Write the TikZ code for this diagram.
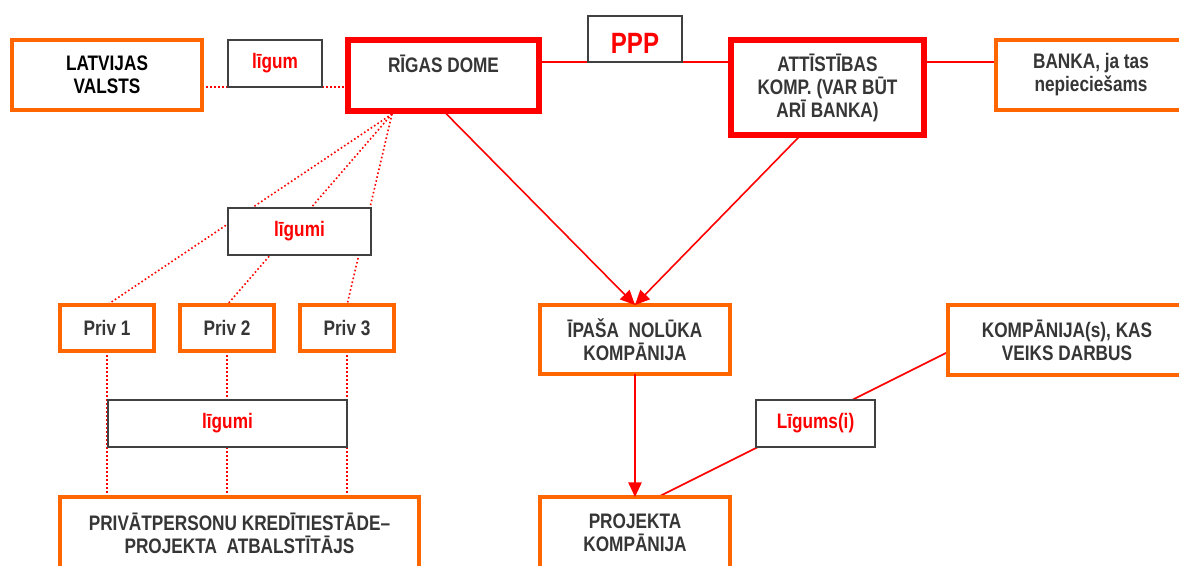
\documentclass[tikz,border=0pt]{standalone}
\usepackage{fontspec}
\setmainfont[FakeStretch=0.82]{Liberation Sans}
\usetikzlibrary{arrows.meta,backgrounds}
\definecolor{boxorange}{HTML}{FF6600}
\definecolor{boxred}{HTML}{FF0000}
\definecolor{boxgray}{HTML}{404040}
\definecolor{txtgray}{HTML}{363636}
\begin{document}
\begin{tikzpicture}[x=0.75pt,y=-0.75pt,
 base/.style={draw, fill=white, inner sep=0pt, outer sep=0pt, align=center,
   font=\bfseries\fontsize{15.75}{17.25}\selectfont, text=txtgray},
 obox/.style={base, draw=boxorange, line width=3pt},
 rbox/.style={base, draw=boxred, line width=4.5pt},
 gbox/.style={base, draw=boxgray, line width=1.5pt, text=boxred},
 sz/.style 2 args={minimum width=#1pt, minimum height=#2pt},
 link/.style={draw=boxred, line width=1.2pt},
 dotlink/.style={draw=boxred, line width=1.2pt, dash pattern=on 1.2pt off 1.8pt},
 arr/.style={link, -{Triangle[length=11pt,width=10pt]}}
]
\useasboundingbox (0,0) rectangle (1179,565);
\clip (0,0) rectangle (1179,565);

% boxes
\node[obox, sz={142.5}{52.5}, text=black] (latv) at (107,75) {LATVIJAS\\VALSTS};
\node[gbox, sz={70.5}{35.25}] (lig1) at (275,63.5) {līgum};
\node[rbox, sz={143.25}{53.25}] (riga) at (443.5,75.5) {RĪGAS DOME\\~};
\node[gbox, sz={70.5}{34.5}, font=\bfseries\fontsize{22}{24}\selectfont, text height=22pt] (ppp) at (635,39) {PPP};
\node[rbox, sz={144.75}{71.25}] (att) at (827.5,87.5) {ATTĪSTĪBAS\\KOMP. (VAR BŪT\\ARĪ BANKA)};
\node[obox, sz={142.5}{52.5}] (bank) at (1091,75) {BANKA, ja tas\\nepieciešams};

\node[gbox, sz={107.25}{35.25}] (lig2) at (299.5,231.5) {līgumi};
\node[obox, sz={70.5}{34.5}] (priv1) at (107,328) {Priv 1};
\node[obox, sz={70.5}{34.5}] (priv2) at (227,328) {Priv 2};
\node[obox, sz={70.5}{34.5}] (priv3) at (347,328) {Priv 3};
\node[gbox, sz={179.25}{35.25}] (lig4) at (227.5,423.5) {līgumi};
\node[obox, sz={269.25}{54}] (privp) at (239.5,533) {PRIVĀTPERSONU KREDĪTIESTĀDE–\\PROJEKTA\ \ ATBALSTĪTĀJS};

\node[obox, sz={142.5}{51.75}] (spv) at (635,339.5) {ĪPAŠA\ \ NOLŪKA\\KOMPĀNIJA};
\node[obox, sz={142.5}{54}] (proj) at (635,533) {PROJEKTA\\KOMPĀNIJA};
\node[obox, sz={178.5}{52.5}] (komp) at (1067,340) {KOMPĀNIJA(s), KAS\\VEIKS DARBUS};
\node[gbox, sz={89.25}{35.25}] (lig3) at (815.5,423.5) {Līgums(i)};

\coordinate (fan) at (392,114);

\begin{pgfonlayer}{background}
 % dotted contracts
 \draw[dotlink] (latv.east |- lig1.south) -- (riga.west |- lig1.south);
 \draw[dotlink] (fan) -- (priv1.north);
 \draw[dotlink] (fan) -- (priv2.north);
 \draw[dotlink] (fan) -- (priv3.north);
 \draw[dotlink] (priv1.south) -- (priv1.south |- privp.north);
 \draw[dotlink] (priv2.south) -- (priv2.south |- privp.north);
 \draw[dotlink] (priv3.south) -- (priv3.south |- privp.north);
 % solid links
 \draw[link] (riga.east |- ppp.south) -- (att.west |- ppp.south);
 \draw[link] (att.east |- ppp.south) -- (bank.west |- ppp.south);
 \draw[link] ([xshift=17.25pt]proj.north) -- ([yshift=-9pt]komp.west);
\end{pgfonlayer}

% arrows
\draw[arr] (riga.south) -- (spv.north);
\draw[arr] ([xshift=-20pt]att.south) -- (spv.north);
\draw[arr] (spv.south) -- (proj.north);
\end{tikzpicture}
\end{document}
